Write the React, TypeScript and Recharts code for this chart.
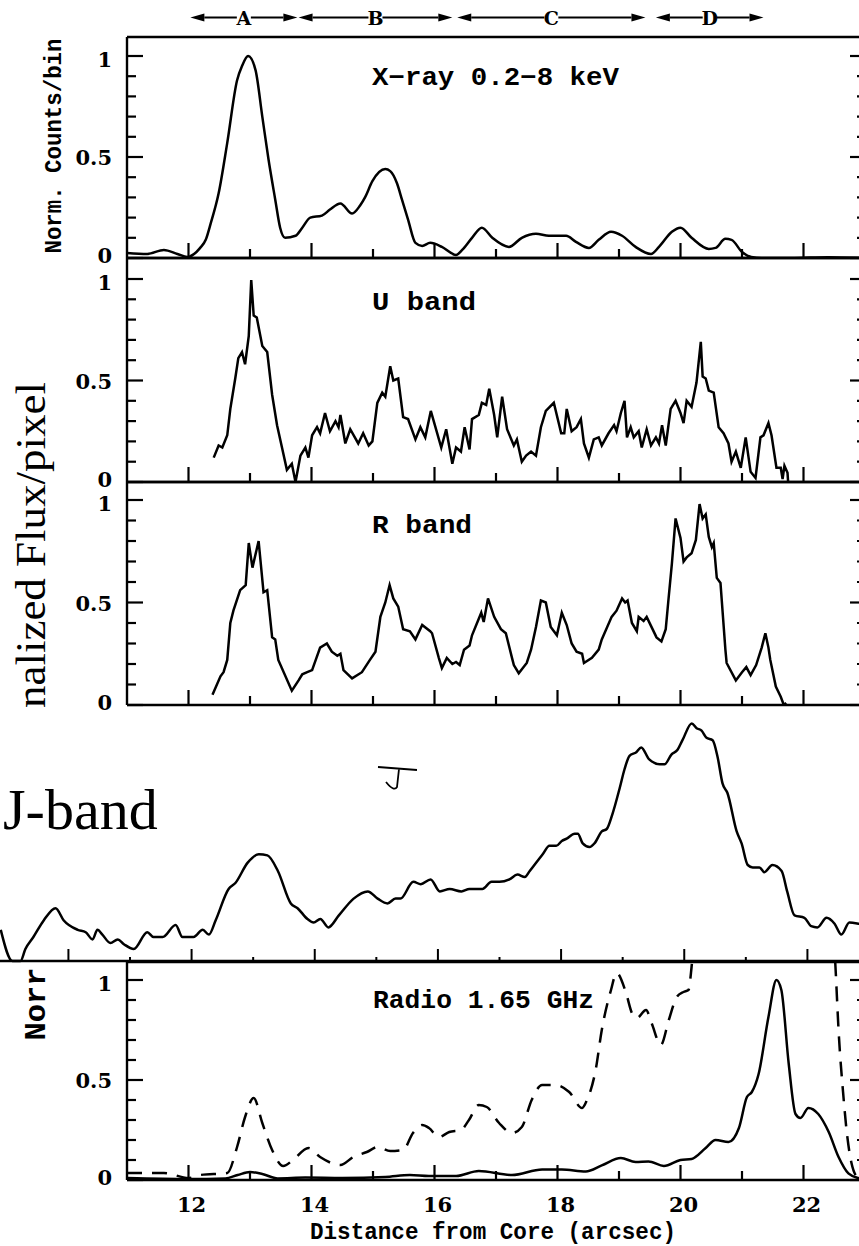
import React from 'react';
import { LineChart, Line, XAxis, YAxis, ReferenceLine } from 'recharts';

// ---------------- data (distance in arcsec, normalized value) ----------------
const xrayProfile: number[][] = [
  [11.0, 0.025], [11.33, 0.02], [11.6, 0.04], [11.82, 0.02], [11.98, 0.005], [12.19, 0.05], [12.28, 0.09],
  [12.36, 0.17], [12.49, 0.32], [12.63, 0.57], [12.79, 0.88], [12.87, 0.95], [12.97, 1.0], [13.09, 0.93],
  [13.2, 0.7], [13.3, 0.49], [13.41, 0.29], [13.49, 0.15], [13.57, 0.1], [13.74, 0.11], [13.85, 0.15],
  [13.98, 0.2], [14.17, 0.21], [14.3, 0.24], [14.47, 0.27], [14.66, 0.22], [14.79, 0.26], [14.87, 0.3],
  [14.99, 0.38], [15.2, 0.44], [15.28, 0.43], [15.39, 0.37], [15.47, 0.29], [15.57, 0.19], [15.69, 0.075],
  [15.8, 0.06], [15.93, 0.075], [16.12, 0.055], [16.35, 0.015], [16.45, 0.04], [16.61, 0.1], [16.77, 0.15],
  [16.94, 0.1], [17.21, 0.055], [17.42, 0.1], [17.65, 0.12], [17.86, 0.11], [18.14, 0.11], [18.3, 0.08],
  [18.51, 0.05], [18.67, 0.09], [18.87, 0.13], [19.05, 0.11], [19.27, 0.055], [19.52, 0.02], [19.65, 0.055],
  [19.86, 0.13], [20.0, 0.15], [20.18, 0.1], [20.46, 0.045], [20.57, 0.05], [20.73, 0.095], [20.83, 0.09],
  [21.0, 0.03], [21.15, 0.005], [21.32, 0.0], [21.8, 0.0], [22.4, 0.004], [23.0, 0.0],
];

const uBandProfile: number[][] = [
  [12.41, 0.12], [12.49, 0.18], [12.55, 0.17], [12.63, 0.23], [12.68, 0.36], [12.76, 0.51], [12.81, 0.61],
  [12.87, 0.64], [12.92, 0.58], [12.98, 0.72], [13.02, 0.995], [13.06, 0.82], [13.11, 0.81], [13.2, 0.67],
  [13.28, 0.64], [13.36, 0.43], [13.44, 0.28], [13.52, 0.17], [13.6, 0.06], [13.68, 0.09], [13.74, 0.0],
  [13.82, 0.13], [13.9, 0.17], [13.95, 0.12], [14.01, 0.23], [14.09, 0.27], [14.14, 0.24], [14.22, 0.34],
  [14.3, 0.25], [14.39, 0.3], [14.44, 0.27], [14.47, 0.33], [14.55, 0.19], [14.63, 0.26], [14.76, 0.19],
  [14.84, 0.24], [14.93, 0.18], [14.99, 0.2], [15.07, 0.39], [15.15, 0.44], [15.2, 0.42], [15.28, 0.57],
  [15.33, 0.5], [15.41, 0.51], [15.49, 0.32], [15.57, 0.31], [15.69, 0.21], [15.77, 0.27], [15.85, 0.22],
  [15.94, 0.35], [16.11, 0.17], [16.19, 0.26], [16.29, 0.09], [16.35, 0.17], [16.43, 0.15], [16.49, 0.27],
  [16.57, 0.16], [16.61, 0.31], [16.72, 0.33], [16.77, 0.39], [16.84, 0.38], [16.89, 0.46], [16.97, 0.33],
  [17.02, 0.22], [17.1, 0.42], [17.18, 0.26], [17.29, 0.18], [17.34, 0.21], [17.42, 0.1], [17.49, 0.13],
  [17.57, 0.15], [17.65, 0.13], [17.73, 0.27], [17.81, 0.35], [17.94, 0.39], [18.06, 0.24], [18.11, 0.24],
  [18.15, 0.36], [18.23, 0.25], [18.31, 0.27], [18.38, 0.31], [18.43, 0.19], [18.51, 0.12], [18.59, 0.21],
  [18.67, 0.22], [18.72, 0.18], [18.83, 0.24], [18.92, 0.28], [18.96, 0.25], [19.03, 0.34], [19.09, 0.4],
  [19.13, 0.22], [19.19, 0.27], [19.24, 0.22], [19.32, 0.25], [19.37, 0.17], [19.45, 0.26], [19.52, 0.18],
  [19.6, 0.22], [19.65, 0.19], [19.7, 0.28], [19.76, 0.18], [19.84, 0.36], [19.92, 0.4], [20.0, 0.34],
  [20.05, 0.29], [20.1, 0.4], [20.18, 0.37], [20.26, 0.49], [20.33, 0.69], [20.36, 0.52], [20.41, 0.51],
  [20.46, 0.45], [20.54, 0.44], [20.62, 0.27], [20.7, 0.24], [20.78, 0.19], [20.83, 0.1], [20.9, 0.15],
  [20.98, 0.07], [21.06, 0.22], [21.14, 0.05], [21.22, 0.02], [21.3, 0.22], [21.35, 0.23], [21.43, 0.29],
  [21.48, 0.23], [21.56, 0.07], [21.63, 0.07], [21.66, 0.015], [21.69, 0.08], [21.74, 0.045], [21.75, 0.0],
];

const rBandProfile: number[][] = [
  [12.39, 0.05], [12.52, 0.14], [12.57, 0.16], [12.63, 0.22], [12.68, 0.4], [12.73, 0.46], [12.84, 0.56],
  [12.93, 0.585], [12.98, 0.79], [13.04, 0.67], [13.14, 0.8], [13.22, 0.55], [13.28, 0.56], [13.36, 0.33],
  [13.41, 0.32], [13.46, 0.22], [13.68, 0.07], [13.79, 0.12], [13.85, 0.15], [13.93, 0.16], [14.01, 0.17],
  [14.14, 0.28], [14.25, 0.3], [14.33, 0.26], [14.42, 0.24], [14.47, 0.25], [14.52, 0.17], [14.66, 0.13],
  [14.82, 0.16], [14.95, 0.22], [15.04, 0.26], [15.12, 0.43], [15.2, 0.5], [15.27, 0.585], [15.33, 0.52],
  [15.41, 0.48], [15.49, 0.37], [15.6, 0.36], [15.69, 0.32], [15.8, 0.39], [15.93, 0.36], [15.96, 0.35],
  [16.07, 0.23], [16.12, 0.18], [16.2, 0.23], [16.29, 0.2], [16.35, 0.21], [16.41, 0.195], [16.48, 0.27],
  [16.57, 0.29], [16.61, 0.34], [16.76, 0.45], [16.8, 0.405], [16.87, 0.52], [16.97, 0.43], [17.08, 0.37],
  [17.16, 0.35], [17.26, 0.23], [17.29, 0.195], [17.37, 0.155], [17.5, 0.205], [17.57, 0.27], [17.65, 0.38],
  [17.73, 0.51], [17.81, 0.5], [17.89, 0.38], [17.99, 0.34], [18.07, 0.45], [18.15, 0.39], [18.23, 0.3],
  [18.31, 0.26], [18.4, 0.25], [18.43, 0.205], [18.56, 0.23], [18.67, 0.27], [18.72, 0.32], [18.88, 0.43],
  [18.96, 0.46], [19.05, 0.52], [19.1, 0.5], [19.14, 0.51], [19.21, 0.4], [19.29, 0.36], [19.32, 0.43],
  [19.4, 0.41], [19.45, 0.43], [19.53, 0.38], [19.61, 0.33], [19.69, 0.31], [19.76, 0.37], [19.8, 0.5],
  [19.86, 0.69], [19.92, 0.91], [20.0, 0.815], [20.05, 0.7], [20.1, 0.72], [20.18, 0.74], [20.25, 0.805],
  [20.31, 0.98], [20.36, 0.91], [20.41, 0.93], [20.46, 0.82], [20.51, 0.77], [20.54, 0.79], [20.59, 0.62],
  [20.65, 0.595], [20.73, 0.27], [20.75, 0.205], [20.9, 0.12], [21.0, 0.16], [21.07, 0.185], [21.14, 0.146],
  [21.23, 0.195], [21.32, 0.28], [21.38, 0.35], [21.43, 0.28], [21.46, 0.22], [21.55, 0.09], [21.63, 0.04],
  [21.68, 0.0], [21.72, 0.01],
];

const jBandProfile: number[][] = [
  [8.95, 0.13], [9.14, 0.0], [9.27, 0.0], [9.35, 0.05], [9.48, 0.1], [9.65, 0.17], [9.84, 0.22], [9.97, 0.17],
  [10.2, 0.13], [10.33, 0.12], [10.44, 0.09], [10.52, 0.13], [10.6, 0.11], [10.73, 0.075], [10.85, 0.09],
  [10.95, 0.07], [11.11, 0.05], [11.33, 0.12], [11.43, 0.1], [11.58, 0.1], [11.79, 0.15], [11.9, 0.1],
  [12.08, 0.1], [12.23, 0.13], [12.33, 0.11], [12.44, 0.17], [12.65, 0.3], [12.76, 0.325], [12.96, 0.41],
  [13.14, 0.445], [13.28, 0.44], [13.45, 0.375], [13.66, 0.24], [13.77, 0.22], [13.93, 0.175], [14.03, 0.16],
  [14.14, 0.175], [14.27, 0.14], [14.44, 0.19], [14.68, 0.26], [14.91, 0.29], [15.07, 0.26], [15.23, 0.24],
  [15.36, 0.26], [15.44, 0.26], [15.65, 0.33], [15.77, 0.32], [15.93, 0.34], [16.08, 0.29], [16.24, 0.3],
  [16.43, 0.29], [16.56, 0.3], [16.69, 0.3], [16.77, 0.3], [16.92, 0.33], [17.05, 0.33], [17.21, 0.34],
  [17.34, 0.36], [17.46, 0.35], [17.54, 0.375], [17.75, 0.445], [17.86, 0.48], [17.97, 0.48], [18.06, 0.5],
  [18.14, 0.51], [18.27, 0.53], [18.32, 0.53], [18.4, 0.49], [18.51, 0.475], [18.59, 0.49], [18.71, 0.54],
  [18.79, 0.55], [18.88, 0.61], [19.0, 0.72], [19.08, 0.8], [19.16, 0.855], [19.27, 0.87], [19.35, 0.89],
  [19.48, 0.84], [19.65, 0.82], [19.73, 0.82], [19.84, 0.86], [19.94, 0.88], [20.02, 0.92], [20.17, 0.99],
  [20.25, 0.97], [20.33, 0.96], [20.41, 0.93], [20.51, 0.92], [20.59, 0.85], [20.67, 0.74], [20.75, 0.7],
  [20.9, 0.54], [20.98, 0.49], [21.08, 0.4], [21.16, 0.39], [21.27, 0.39], [21.35, 0.37], [21.48, 0.4],
  [21.63, 0.375], [21.72, 0.29], [21.84, 0.19], [22.0, 0.18], [22.11, 0.145], [22.21, 0.14], [22.36, 0.18],
  [22.49, 0.155], [22.6, 0.11], [22.73, 0.16], [22.89, 0.155], [23.0, 0.15],
];

const radioSolid: number[][] = [
  [11.0, 0.01], [12.0, 0.005], [12.6, 0.008], [12.8, 0.025], [13.0, 0.04], [13.2, 0.03], [13.45, 0.008],
  [13.9, 0.012], [14.5, 0.01], [15.2, 0.015], [15.6, 0.025], [15.91, 0.02], [16.35, 0.02], [16.72, 0.045],
  [17.26, 0.025], [17.75, 0.053], [18.07, 0.053], [18.46, 0.043], [18.72, 0.073], [19.03, 0.11], [19.27, 0.09],
  [19.48, 0.093], [19.73, 0.07], [20.0, 0.1], [20.18, 0.105], [20.41, 0.16], [20.57, 0.2], [20.78, 0.19],
  [20.95, 0.26], [21.08, 0.415], [21.16, 0.44], [21.27, 0.53], [21.43, 0.815], [21.56, 1.0], [21.64, 0.95],
  [21.76, 0.58], [21.87, 0.33], [21.95, 0.31], [22.08, 0.36], [22.24, 0.33], [22.41, 0.24], [22.57, 0.115],
  [22.73, 0.033], [22.89, 0.01], [23.0, 0.005],
];

const radioDashed: number[][] = [
  [11.0, 0.035], [11.6, 0.035], [12.0, 0.01], [12.19, 0.025], [12.63, 0.035], [12.79, 0.165], [12.92, 0.315],
  [13.06, 0.41], [13.2, 0.285], [13.36, 0.15], [13.54, 0.07], [13.7, 0.1], [13.95, 0.16], [14.14, 0.115],
  [14.47, 0.075], [14.68, 0.115], [14.9, 0.14], [15.08, 0.165], [15.28, 0.145], [15.49, 0.15], [15.65, 0.235],
  [15.8, 0.275], [15.91, 0.26], [16.07, 0.215], [16.24, 0.24], [16.43, 0.25], [16.56, 0.3], [16.72, 0.375],
  [16.85, 0.365], [17.05, 0.285], [17.26, 0.235], [17.42, 0.265], [17.58, 0.4], [17.75, 0.475], [17.97, 0.475],
  [18.19, 0.44], [18.4, 0.36], [18.48, 0.4], [18.62, 0.55], [18.72, 0.75], [18.87, 0.95], [18.96, 1.035],
  [19.11, 0.94], [19.21, 0.835], [19.29, 0.81], [19.44, 0.85], [19.53, 0.785], [19.68, 0.675], [19.81, 0.8],
  [19.94, 0.915], [20.05, 0.94], [20.13, 0.95], [20.18, 1.065], [20.3, 1.6], [22.4, 1.6], [22.52, 1.065],
  [22.57, 0.75], [22.65, 0.415], [22.7, 0.25], [22.78, 0.085], [22.89, 0.01], [23.0, 0.0],
];

const knotLabels = ['A', 'B', 'C', 'D'];
const knotStart = [12.03, 13.79, 16.37, 19.6];
const knotEnd = [13.77, 16.29, 19.43, 21.35];

const distanceTicks = [12, 13, 14, 15, 16, 17, 18, 19, 20, 21, 22];
const jAxisTicks = [10, 11, 12, 13, 14, 15, 16, 17, 18, 19, 20, 21, 22];
const fluxTicks = [0, 0.1, 0.2, 0.3, 0.4, 0.5, 0.6, 0.7, 0.8, 0.9, 1.0];

// ---------------- layout / style ----------------
const W = 870;
const H = 1246;
const PLOT_L = 127;
const PLOT_R = 866;
const X_MIN = 11;
const X_MAX = 23;
const PX_PER = (PLOT_R - PLOT_L) / (X_MAX - X_MIN);
const J_X_MIN = X_MIN - PLOT_L / PX_PER;
const KNOT_Y = 1.19;
const AX_H = 1;

const tickFont: React.CSSProperties = { fontFamily: '"DejaVu Serif", serif', fontWeight: 700, fontSize: 21 };
const monoFont: React.CSSProperties = { fontFamily: '"Liberation Mono", monospace', fontWeight: 700 };

const toPoints = (arr: number[][]) => arr.map(([x, y]) => ({ x, y }));

const near = (a: number, b: number) => Math.abs(a - b) < 1e-6;
const isMajorY = (v: number) => near(v, 0) || near(v, 0.5) || near(v, 1);
const fmtY = (v: number) => (near(v, 0.5) ? '0.5' : near(v, 1) ? '1' : '0');

const LeftTick = (p: any) => {
  const v = p.payload.value;
  const major = isMajorY(v);
  const dy = near(v, 0) ? 5 : near(v, 1) ? 11 : 8;
  return (
    <g>
      <line x1={p.x} x2={p.x + (major ? 16 : 9)} y1={p.y} y2={p.y} stroke="#000" strokeWidth={2.2} />
      {major && (
        <text x={p.x - 15} y={p.y + dy} textAnchor="end" style={tickFont} fill="#000">
          {fmtY(v)}
        </text>
      )}
    </g>
  );
};

const RightTick = (p: any) => {
  const major = isMajorY(p.payload.value);
  return <line x1={p.x} x2={p.x - (major ? 15 : 8)} y1={p.y} y2={p.y} stroke="#000" strokeWidth={2.2} />;
};

const makeBottomTick = (withLabel: boolean) => (p: any) => {
  const v = p.payload.value;
  const major = v % 2 === 0;
  return (
    <g>
      <line x1={p.x} x2={p.x} y1={p.y} y2={p.y - (major ? 15 : 9)} stroke="#000" strokeWidth={2.2} />
      {withLabel && major && (
        <text x={p.x + 3} y={p.y + 32} textAnchor="middle" style={tickFont} fill="#000">
          {v}
        </text>
      )}
    </g>
  );
};

const TopTick = (p: any) => {
  const major = p.payload.value % 2 === 0;
  return <line x1={p.x} x2={p.x} y1={p.y} y2={p.y + (major ? 15 : 9)} stroke="#000" strokeWidth={2.2} />;
};

const JTick = (p: any) => {
  const major = p.payload.value % 2 === 0;
  return <line x1={p.x + 3} x2={p.x + 3} y1={p.y} y2={p.y - (major ? 12 : 4)} stroke="#000" strokeWidth={2} />;
};

const knotArrow = (label: string) => (p: any) => {
  const { x1, x2, y1 } = p;
  const xc = (x1 + x2) / 2;
  const y = y1;
  const ah = 14;
  const aw = 4;
  return (
    <g>
      <line x1={x1 + ah} x2={xc - 7} y1={y} y2={y} stroke="#000" strokeWidth={2} />
      <line x1={xc + 7} x2={x2 - ah} y1={y} y2={y} stroke="#000" strokeWidth={2} />
      <polygon points={`${x1},${y} ${x1 + ah},${y - aw} ${x1 + ah},${y + aw}`} fill="#000" />
      <polygon points={`${x2},${y} ${x2 - ah},${y - aw} ${x2 - ah},${y + aw}`} fill="#000" />
      <text x={xc} y={y + 7} textAnchor="middle" style={{ ...tickFont, fontSize: 19 }} fill="#000">
        {label}
      </text>
    </g>
  );
};

const axisLine = { stroke: '#000', strokeWidth: 2.4 };

type PanelProps = {
  top: number;
  bottom: number;
  vmax: number;
  xLabels?: boolean;
  children?: React.ReactNode;
};

const Panel = ({ top, bottom, vmax, xLabels = false, children }: PanelProps) => (
  <div style={{ position: 'absolute', left: 0, top: 0 }}>
    <LineChart
      width={W}
      height={H}
      margin={{ top: top - AX_H, bottom: H - bottom - AX_H, left: 0, right: W - PLOT_R }}
    >
      <XAxis
        xAxisId="b"
        type="number"
        dataKey="x"
        domain={[X_MIN, X_MAX]}
        allowDataOverflow
        ticks={distanceTicks}
        interval={0}
        height={AX_H}
        tickSize={0}
        tickMargin={0}
        tickLine={false}
        axisLine={axisLine}
        tick={makeBottomTick(xLabels)}
      />
      <XAxis
        xAxisId="t"
        orientation="top"
        type="number"
        domain={[X_MIN, X_MAX]}
        allowDataOverflow
        ticks={distanceTicks}
        interval={0}
        height={AX_H}
        tickSize={0}
        tickMargin={0}
        tickLine={false}
        axisLine={axisLine}
        tick={TopTick}
      />
      <YAxis
        yAxisId="l"
        type="number"
        domain={[0, vmax]}
        allowDataOverflow
        ticks={fluxTicks}
        interval={0}
        width={PLOT_L}
        tickSize={0}
        tickMargin={0}
        tickLine={false}
        axisLine={axisLine}
        tick={LeftTick}
      />
      <YAxis
        yAxisId="r"
        orientation="right"
        type="number"
        domain={[0, vmax]}
        allowDataOverflow
        ticks={fluxTicks}
        interval={0}
        width={1}
        tickSize={0}
        tickMargin={0}
        tickLine={false}
        axisLine={axisLine}
        tick={RightTick}
      />
      {children}
    </LineChart>
  </div>
);

const lineProps = {
  xAxisId: 'b',
  yAxisId: 'l',
  dataKey: 'y',
  dot: false,
  activeDot: false,
  stroke: '#000',
  strokeWidth: 2.5,
  isAnimationActive: false,
} as const;

export default function App() {
  return (
    <div style={{ position: 'absolute', left: 0, top: 0, width: 859, height: 1246, overflow: 'hidden', background: '#fff' }}>
      {/* X-ray panel */}
      <Panel top={37} bottom={258} vmax={221 / 202}>
        <Line {...lineProps} type="monotone" data={toPoints(xrayProfile)} />
        {knotLabels.map((k, i) => (
          <ReferenceLine
            key={k}
            xAxisId="b"
            yAxisId="l"
            ifOverflow="visible"
            segment={[{ x: knotStart[i], y: KNOT_Y }, { x: knotEnd[i], y: KNOT_Y }]}
            shape={knotArrow(k)}
          />
        ))}
      </Panel>

      {/* U band */}
      <Panel top={258} bottom={482} vmax={224 / 203}>
        <Line {...lineProps} type="linear" data={toPoints(uBandProfile)} />
      </Panel>

      {/* R band */}
      <Panel top={482} bottom={705} vmax={223 / 205}>
        <Line {...lineProps} type="linear" data={toPoints(rBandProfile)} />
      </Panel>

      {/* J band (pasted profile) */}
      <div style={{ position: 'absolute', left: 0, top: 0 }}>
        <LineChart width={W} height={H} margin={{ top: 721, bottom: H - 961 - AX_H, left: 0, right: W - PLOT_R }}>
          <XAxis
            xAxisId="b"
            type="number"
            dataKey="x"
            domain={[J_X_MIN, X_MAX]}
            allowDataOverflow
            ticks={jAxisTicks}
            interval={0}
            height={AX_H}
            tickSize={0}
            tickMargin={0}
            tickLine={false}
            axisLine={axisLine}
            tick={JTick}
          />
          <YAxis yAxisId="l" type="number" domain={[0, 1]} hide />
          <Line {...lineProps} type="monotone" data={toPoints(jBandProfile)} />
        </LineChart>
      </div>

      {/* Radio */}
      <Panel top={962} bottom={1180} vmax={218 / 200} xLabels>
        <Line {...lineProps} type="monotone" data={toPoints(radioSolid)} />
        <Line {...lineProps} type="monotone" strokeDasharray="15 10" data={toPoints(radioDashed)} />
      </Panel>

      {/* text overlay */}
      <svg width={859} height={1246} style={{ position: 'absolute', left: 0, top: 0, pointerEvents: 'none' }}>
        <text x={372} y={85} textLength={247} lengthAdjust="spacingAndGlyphs" style={{ ...monoFont, fontSize: 25 }}>
          X−ray 0.2−8 keV
        </text>
        <text x={372} y={310} textLength={104} lengthAdjust="spacingAndGlyphs" style={{ ...monoFont, fontSize: 25 }}>
          U band
        </text>
        <text x={372} y={533} textLength={100} lengthAdjust="spacingAndGlyphs" style={{ ...monoFont, fontSize: 25 }}>
          R band
        </text>
        <text x={373} y={1008} textLength={221} lengthAdjust="spacingAndGlyphs" style={{ ...monoFont, fontSize: 25 }}>
          Radio 1.65 GHz
        </text>
        <text
          transform="translate(61,146) rotate(-90)"
          textAnchor="middle"
          textLength={215}
          lengthAdjust="spacingAndGlyphs"
          style={{ ...monoFont, fontSize: 23 }}
        >
          Norm. Counts/bin
        </text>
        <text
          transform="translate(45,545) rotate(-90)"
          textAnchor="middle"
          textLength={326}
          lengthAdjust="spacingAndGlyphs"
          style={{ fontFamily: '"Liberation Serif", serif', fontSize: 42 }}
        >
          nalized Flux/pixel
        </text>
        <text
          transform="translate(45,1004) rotate(-90)"
          textAnchor="middle"
          textLength={73}
          lengthAdjust="spacingAndGlyphs"
          style={{ ...monoFont, fontSize: 30 }}
        >
          Norr
        </text>
        <text x={3} y={829} style={{ fontFamily: '"Liberation Serif", serif', fontSize: 58 }}>
          J-band
        </text>
        <path d="M378 767 L417 770 M399 769 L397 787 Q394 792 386 782" stroke="#000" strokeWidth={1.8} fill="none" />
        <text x={493} y={1239} textAnchor="middle" textLength={366} lengthAdjust="spacingAndGlyphs" style={{ ...monoFont, fontSize: 23 }}>
          Distance from Core (arcsec)
        </text>
      </svg>
    </div>
  );
}
